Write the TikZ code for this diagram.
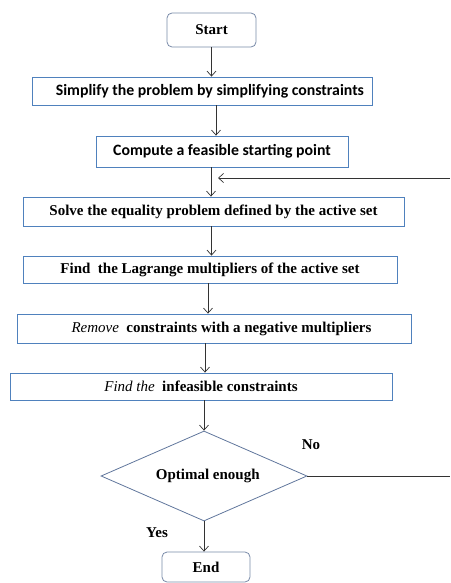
\documentclass[tikz,border=0pt]{standalone}
\usepackage{fontspec}
\setmainfont{Liberation Serif}
\newfontfamily\calfont{Carlito}
\usetikzlibrary{arrows.meta,shapes.geometric}
\definecolor{boxblue}{RGB}{79,129,189}
\definecolor{termgray}{RGB}{120,138,168}
\definecolor{diagray}{RGB}{96,118,156}
\begin{document}
\begin{tikzpicture}[x=1pt,y=1pt,yscale=-1,xscale=1,
  stepbox/.style={draw=boxblue,line width=0.8pt,inner sep=0pt,font=\fontsize{15}{17}\selectfont\bfseries},
  termbox/.style={draw=termgray,line width=0.8pt,rounded corners=5pt,inner sep=0pt,font=\fontsize{15}{17}\selectfont\bfseries},
  flow/.style={draw=black!80,line width=0.7pt,-{Straight Barb[length=5pt,width=9pt]}}]
        \useasboundingbox (0,0) rectangle (450,583);
        % Start
        \node [termbox,minimum width=89pt,minimum height=34pt] (start) at (211.5,30) {Start};
        % Text Node
        \node [stepbox,minimum width=340pt,minimum height=28pt,font=\fontsize{15.8}{18}\selectfont\calfont\bfseries] (simplify) at (202,91) {\quad Simplify the problem by simplifying constraints};
        % Text Node
        \node [stepbox,minimum width=252pt,minimum height=31pt,font=\fontsize{15.8}{18}\selectfont\calfont\bfseries] (feasible) at (222,151.5) {Compute a feasible starting point\qquad};
        % Text Node
        \node [stepbox,minimum width=381pt,minimum height=29pt] (solve) at (213.5,211.5) {Solve the equality problem defined by the active set};
        % Text Node
        \node [stepbox,minimum width=374pt,minimum height=27pt] (lagrange) at (210,269.5) {Find\ \ the Lagrange multipliers of the active set};
        % Text Node
        \node [stepbox,minimum width=394pt,minimum height=29pt] (remove) at (214,328.5) {\quad\textit{\mdseries Remove}\ \ constraints with a negative multipliers};
        % Text Node
        \node [stepbox,minimum width=382pt,minimum height=27pt] (infeasible) at (201,386.5) {\textit{\mdseries Find the}\ \ infeasible constraints};
        % Decision
        \node [diamond,draw=diagray,line width=0.8pt,inner sep=0pt,aspect=2.3,minimum width=206pt,minimum height=90pt,font=\fontsize{15}{17}\selectfont\bfseries] (optimal) at (204,476) {\ \ Optimal enough};
        % End
        \node [termbox,minimum width=88pt,minimum height=30pt] (end) at (206,567) {End};
        % Labels
        \node [font=\fontsize{15}{17}\selectfont\bfseries] (no) at (311,445) {No};
        \node [font=\fontsize{15}{17}\selectfont\bfseries] (yes) at (157,533) {Yes};
        % Feedback ends
        \coordinate (fblow) at (450,473);
        \coordinate (fbhigh) at (450,178);
        % Connection
        \draw [flow] (start.south) -- (start.south |- simplify.north);
        \draw [flow] ([xshift=14pt]simplify.south) -- ([xshift=14pt]simplify.south |- feasible.north);
        \draw [flow] ([xshift=-11pt]feasible.south) -- ([xshift=-11pt]feasible.south |- solve.north);
        \draw [flow] ([xshift=-2pt]solve.south) -- ([xshift=-2pt]solve.south |- lagrange.north);
        \draw [flow] ([xshift=-2pt]lagrange.south) -- ([xshift=-2pt]lagrange.south |- remove.north);
        \draw [flow] ([xshift=-9pt]remove.south) -- ([xshift=-9pt]remove.south |- infeasible.north);
        \draw [flow] (infeasible.south -| optimal.north) -- (optimal.north);
        \draw [flow] (optimal.south) -- (optimal.south |- end.north);
        % Connection (No)
        \draw [draw=black!80,line width=0.7pt] (optimal.east) -- (optimal.east -| fblow);
        \draw [flow] (fbhigh) -- ([xshift=4.5pt]fbhigh -| solve.north);
\end{tikzpicture}
\end{document}
